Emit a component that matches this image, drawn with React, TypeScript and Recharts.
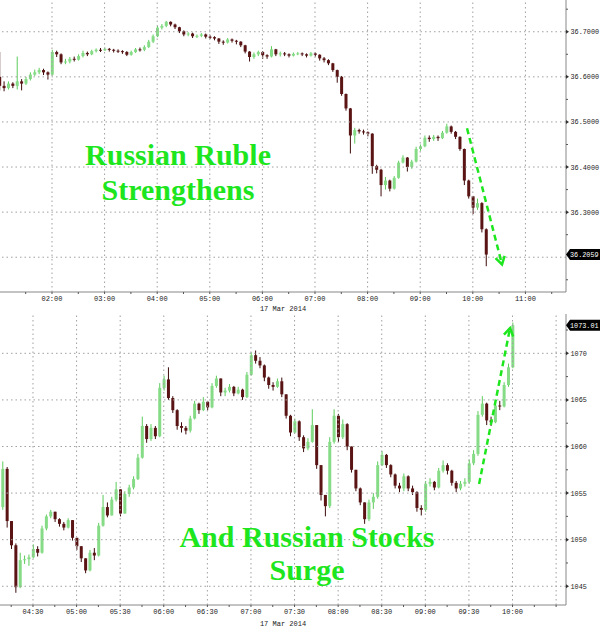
import React from 'react';
import { ComposedChart, Bar, XAxis, YAxis, ReferenceLine } from 'recharts';

// USD/RUB, 5-minute bars starting 01:00 (minutes since midnight)
const rubleStart = 60;
const rubleStep = 5;
const rubleOpen0 = 36.6;
const rubleClose = [
  36.580, 36.575, 36.585, 36.580, 36.590, 36.585, 36.595, 36.605, 36.610, 36.615,
  36.610, 36.605, 36.655, 36.650, 36.632, 36.634, 36.640, 36.638, 36.646, 36.653,
  36.650, 36.657, 36.660, 36.659, 36.662, 36.660, 36.658, 36.657, 36.655, 36.649,
  36.655, 36.661, 36.660, 36.666, 36.678, 36.690, 36.709, 36.713, 36.722, 36.716,
  36.710, 36.701, 36.694, 36.696, 36.690, 36.691, 36.694, 36.689, 36.688, 36.685,
  36.678, 36.676, 36.683, 36.680, 36.678, 36.670, 36.656, 36.644, 36.650, 36.655,
  36.648, 36.645, 36.661, 36.650, 36.652, 36.650, 36.647, 36.651, 36.652, 36.650,
  36.647, 36.652, 36.649, 36.641, 36.637, 36.630, 36.615, 36.600, 36.562, 36.530,
  36.470, 36.482, 36.479, 36.477, 36.474, 36.402, 36.394, 36.360, 36.370, 36.352,
  36.376, 36.410, 36.421, 36.400, 36.412, 36.440, 36.446, 36.465, 36.462, 36.467,
  36.464, 36.476, 36.490, 36.478, 36.467, 36.440, 36.370, 36.335, 36.310, 36.320,
  36.262, 36.2059,
];
const rubleHigh = [
  36.655, 36.590, 36.590, 36.588, 36.645, 36.595, 36.600, 36.610, 36.616, 36.620,
  36.618, 36.612, 36.660, 36.658, 36.652, 36.640, 36.644, 36.645, 36.650, 36.658,
  36.656, 36.660, 36.663, 36.664, 36.665, 36.664, 36.662, 36.661, 36.659, 36.657,
  36.658, 36.664, 36.665, 36.670, 36.682, 36.694, 36.713, 36.717, 36.724, 36.723,
  36.718, 36.711, 36.703, 36.699, 36.698, 36.694, 36.697, 36.696, 36.692, 36.690,
  36.686, 36.681, 36.686, 36.685, 36.682, 36.679, 36.671, 36.657, 36.654, 36.658,
  36.657, 36.650, 36.668, 36.662, 36.656, 36.655, 36.652, 36.654, 36.655, 36.654,
  36.652, 36.655, 36.654, 36.650, 36.644, 36.639, 36.631, 36.616, 36.602, 36.563,
  36.531, 36.487, 36.485, 36.483, 36.479, 36.475, 36.405, 36.396, 36.378, 36.372,
  36.380, 36.414, 36.426, 36.422, 36.416, 36.445, 36.450, 36.470, 36.470, 36.471,
  36.470, 36.480, 36.496, 36.492, 36.480, 36.468, 36.441, 36.372, 36.336, 36.330,
  36.322, 36.264,
];
const rubleLow = [
  36.570, 36.568, 36.572, 36.575, 36.572, 36.570, 36.582, 36.592, 36.602, 36.606,
  36.604, 36.594, 36.603, 36.644, 36.628, 36.628, 36.630, 36.634, 36.636, 36.643,
  36.646, 36.648, 36.654, 36.655, 36.657, 36.656, 36.654, 36.653, 36.651, 36.646,
  36.647, 36.653, 36.656, 36.657, 36.664, 36.675, 36.688, 36.705, 36.710, 36.712,
  36.706, 36.697, 36.690, 36.690, 36.686, 36.686, 36.688, 36.685, 36.684, 36.681,
  36.673, 36.671, 36.674, 36.676, 36.672, 36.666, 36.652, 36.634, 36.640, 36.646,
  36.640, 36.640, 36.643, 36.646, 36.645, 36.646, 36.643, 36.645, 36.648, 36.646,
  36.643, 36.645, 36.645, 36.636, 36.632, 36.626, 36.611, 36.587, 36.558, 36.525,
  36.430, 36.452, 36.474, 36.472, 36.468, 36.385, 36.386, 36.335, 36.350, 36.346,
  36.350, 36.374, 36.408, 36.390, 36.396, 36.410, 36.436, 36.444, 36.456, 36.458,
  36.458, 36.462, 36.474, 36.474, 36.462, 36.436, 36.360, 36.330, 36.296, 36.305,
  36.255, 36.180,
];

// MICEX index, 3-minute bars starting 04:09
const micexStart = 249;
const micexStep = 3;
const micexOpen0 = 1053.5;
const micexClose = [
  1057.6, 1052.0, 1049.4, 1044.9, 1047.8, 1047.9, 1048.1, 1049.0, 1048.6, 1051.2,
  1052.5, 1053.0, 1052.2, 1051.7, 1051.3, 1052.1, 1050.2, 1049.3, 1048.0, 1046.7,
  1048.6, 1048.3, 1051.5, 1053.5, 1052.6, 1054.3, 1055.4, 1052.8, 1054.9, 1055.6,
  1056.5, 1058.8, 1062.2, 1060.8, 1062.0, 1061.1, 1066.3, 1067.2, 1065.2, 1063.9,
  1062.2, 1062.0, 1061.7, 1063.0, 1064.6, 1063.9, 1064.8, 1064.2, 1066.5, 1067.3,
  1065.8, 1066.0, 1066.4, 1065.7, 1066.1, 1065.3, 1067.7, 1069.8, 1069.2, 1068.7,
  1067.4, 1066.6, 1066.4, 1067.0, 1065.6, 1063.3, 1061.5, 1062.7, 1061.0, 1059.8,
  1060.5, 1062.3, 1058.0, 1054.8, 1053.6, 1060.5, 1063.3, 1061.0, 1062.4, 1060.0,
  1057.5, 1055.5, 1054.0, 1052.2, 1054.0, 1054.6, 1058.0, 1059.1, 1058.0, 1057.0,
  1055.8, 1055.5, 1056.8, 1055.5, 1055.1, 1053.4, 1053.2, 1056.0, 1056.2, 1055.6,
  1057.4, 1058.0, 1057.4, 1056.1, 1055.5, 1056.0, 1056.2, 1058.2, 1059.2, 1063.4,
  1064.6, 1062.8, 1062.6, 1064.4, 1064.3, 1066.6, 1068.5, 1073.01,
];
const micexHigh = [
  1058.4, 1057.8, 1052.0, 1049.6, 1048.6, 1048.3, 1048.4, 1049.5, 1049.3, 1051.5,
  1052.7, 1053.2, 1053.0, 1052.3, 1051.9, 1052.3, 1052.1, 1050.2, 1049.3, 1048.0,
  1048.9, 1049.1, 1051.8, 1054.8, 1054.0, 1054.6, 1056.2, 1055.4, 1055.2, 1055.9,
  1056.8, 1059.2, 1063.2, 1062.4, 1062.4, 1062.2, 1066.8, 1067.6, 1068.5, 1065.4,
  1064.0, 1062.6, 1062.2, 1063.3, 1064.9, 1064.7, 1065.3, 1064.9, 1066.8, 1067.6,
  1067.3, 1066.3, 1066.7, 1066.5, 1066.4, 1066.2, 1068.0, 1070.1, 1070.3, 1069.6,
  1068.8, 1067.5, 1066.9, 1067.3, 1067.4, 1065.6, 1063.4, 1063.0, 1062.8, 1061.2,
  1060.9, 1064.0, 1062.3, 1058.0, 1054.8, 1061.0, 1064.0, 1063.5, 1062.9, 1062.5,
  1060.0, 1057.5, 1055.6, 1054.0, 1054.3, 1055.0, 1058.4, 1059.5, 1059.2, 1058.1,
  1057.1, 1056.1, 1057.1, 1056.9, 1055.8, 1055.2, 1053.7, 1056.3, 1056.6, 1056.3,
  1057.7, 1058.5, 1058.2, 1057.5, 1056.3, 1056.3, 1056.6, 1058.6, 1059.6, 1063.8,
  1065.4, 1064.7, 1063.2, 1064.8, 1064.9, 1066.9, 1068.9, 1073.3,
];
const micexLow = [
  1053.2, 1051.3, 1049.0, 1044.3, 1044.8, 1047.4, 1047.2, 1048.0, 1048.2, 1048.5,
  1051.0, 1052.3, 1051.9, 1051.4, 1051.0, 1051.2, 1049.9, 1048.9, 1047.6, 1046.4,
  1046.6, 1047.8, 1048.2, 1051.4, 1052.4, 1052.6, 1054.1, 1052.5, 1052.8, 1054.6,
  1055.4, 1056.4, 1058.7, 1060.4, 1060.6, 1060.8, 1061.0, 1066.0, 1065.0, 1063.6,
  1061.8, 1061.5, 1061.3, 1061.5, 1062.9, 1063.5, 1063.8, 1063.9, 1064.1, 1066.3,
  1065.4, 1065.4, 1065.8, 1065.4, 1065.6, 1065.0, 1065.2, 1067.6, 1068.9, 1068.4,
  1067.0, 1066.2, 1066.0, 1066.3, 1065.3, 1063.0, 1061.1, 1061.4, 1060.6, 1059.4,
  1059.6, 1060.4, 1057.6, 1054.2, 1052.5, 1053.4, 1060.3, 1060.5, 1060.8, 1059.6,
  1057.2, 1055.2, 1053.7, 1051.7, 1052.0, 1053.3, 1054.4, 1057.9, 1057.7, 1056.7,
  1055.5, 1055.1, 1055.2, 1055.2, 1054.8, 1053.0, 1052.6, 1053.0, 1055.7, 1055.3,
  1055.5, 1057.2, 1057.0, 1055.8, 1055.1, 1055.3, 1055.7, 1056.0, 1058.0, 1059.0,
  1063.2, 1062.3, 1062.2, 1062.5, 1063.9, 1064.2, 1066.4, 1068.4,
];

// axes
const rubleTimeTicks = [90, 120, 150, 180, 210, 240, 270, 300, 330, 360, 390, 420, 450, 480, 510, 540, 570, 600, 630, 660, 690];
const rubleTimeLabels = [120, 180, 240, 300, 360, 420, 480, 540, 600, 660];
const rublePriceMajor = [36.2, 36.3, 36.4, 36.5, 36.6, 36.7];
const rublePriceMinor = [36.15, 36.25, 36.35, 36.45, 36.55, 36.65, 36.75];
const rubleLast = 36.2059;

const micexTimeTicks = [255, 270, 285, 300, 315, 330, 345, 360, 375, 390, 405, 420, 435, 450, 465, 480, 495, 510, 525, 540, 555, 570, 585, 600, 615, 630];
const micexTimeLabels = [270, 300, 330, 360, 390, 420, 450, 480, 510, 540, 570, 600];
const micexGridTimes = [270, 300, 330, 360, 390, 420, 450, 480, 510, 540, 570, 600, 630];
const micexPriceMajor = [1045, 1050, 1055, 1060, 1065, 1070];
const micexPriceMinor = [1047.5, 1052.5, 1057.5, 1062.5, 1067.5, 1072.5];
const micexLast = 1073.01;

const dateLabel = '17 Mar 2014';

// annotation arrows (time, price)
const rubleArrow = [{ x: 593.4, y: 36.486 }, { x: 633.3, y: 36.184 }];
const micexArrow = [{ x: 577.0, y: 1055.98 }, { x: 598.3, y: 1072.71 }];

const buildBars = (start: number, step: number, open0: number, close: number[], high: number[], low: number[]) =>
  close.map((c, i) => ({
    t: start + step * i,
    o: i === 0 ? open0 : close[i - 1],
    c,
    h: high[i],
    l: low[i],
    range: [low[i], high[i]],
  }));

const rubleRows = buildBars(rubleStart, rubleStep, rubleOpen0, rubleClose, rubleHigh, rubleLow);
const micexRows = buildBars(micexStart, micexStep, micexOpen0, micexClose, micexHigh, micexLow);

const MONO = "'Liberation Mono', 'DejaVu Sans Mono', monospace";
const GREEN = '#1ee61e';
const GRID = '#a0a0a0';

const fmtTime = (m: number) =>
  `${String(Math.floor(m / 60)).padStart(2, '0')}:${String(m % 60).padStart(2, '0')}`;

const Candle = (props: any) => {
  const { x, y, width, height, payload } = props;
  if (x == null || y == null || !payload) return null;
  const { o, c, h, l } = payload;
  const top = Math.min(y, y + height);
  const span = Math.abs(height);
  const py = (v: number) => (h === l ? top : top + ((h - v) / (h - l)) * span);
  const up = c >= o;
  const cx = x + width / 2;
  const bTop = py(Math.max(o, c));
  const bBot = py(Math.min(o, c));
  return (
    <g>
      <line x1={cx} x2={cx} y1={top} y2={top + span} stroke={up ? '#5ccc5c' : '#3e0a0a'} strokeWidth={1} />
      <rect x={x} y={bTop} width={width} height={Math.max(1, bBot - bTop)} fill={up ? '#86dc86' : '#5a1414'} />
    </g>
  );
};

const Arrow = (p: any) => {
  const { x1, y1, x2, y2 } = p;
  if (x1 == null) return null;
  const ang = Math.atan2(y2 - y1, x2 - x1);
  const len = 9;
  const spread = 0.55;
  const ax = x2 - len * Math.cos(ang - spread);
  const ay = y2 - len * Math.sin(ang - spread);
  const bx = x2 - len * Math.cos(ang + spread);
  const by = y2 - len * Math.sin(ang + spread);
  return (
    <g>
      <line x1={x1} y1={y1} x2={x2} y2={y2} stroke={GREEN} strokeWidth={2.5} strokeDasharray="6 4" />
      <polyline points={`${ax},${ay} ${x2},${y2} ${bx},${by}`} fill="none" stroke={GREEN} strokeWidth={2.5} />
    </g>
  );
};

const timeTick = (labelled: number[]) => (p: any) => {
  const { x, y, payload } = p;
  const show = labelled.includes(payload.value);
  return (
    <g>
      <line x1={x} x2={x} y1={y} y2={y + 2} stroke="#555" />
      {show && (
        <text x={x} y={y + 8.5} textAnchor="middle" fontSize={7} fontFamily={MONO} fill="#222">
          {fmtTime(payload.value)}
        </text>
      )}
    </g>
  );
};

const priceTick = (majors: number[], last: number, fmt: (v: number) => string) => (p: any) => {
  const { x, y, payload } = p;
  const v = payload.value;
  if (v === last) {
    return (
      <g>
        <polygon points={`${x},${y} ${x + 4},${y - 5.5} ${x + 34},${y - 5.5} ${x + 34},${y + 5.5} ${x + 4},${y + 5.5}`} fill="#000" />
        <text x={x + 4} y={y + 2.5} fontSize={6.8} fontFamily={MONO} fill="#fff">{fmt(v)}</text>
      </g>
    );
  }
  if (majors.includes(v)) {
    return (
      <g>
        <polygon points={`${x},${y - 2} ${x + 3},${y} ${x},${y + 2}`} fill="#333" />
        <text x={x + 4.5} y={y + 2.5} fontSize={6.8} fontFamily={MONO} fill="#222">{fmt(v)}</text>
      </g>
    );
  }
  return <line x1={x} x2={x + 2} y1={y} y2={y} stroke="#555" />;
};

const gridLine = (key: string, props: any) => (
  <ReferenceLine key={key} {...props} stroke={GRID} strokeDasharray="1.5 3" strokeWidth={1} />
);

const RubleChart = () => (
  <ComposedChart width={600} height={314} data={rubleRows} margin={{ top: 0, right: 0, bottom: 0, left: 0 }}>
    <XAxis
      dataKey="t"
      type="number"
      domain={[60.7, 706.3]}
      allowDataOverflow
      ticks={rubleTimeTicks}
      interval={0}
      tick={timeTick(rubleTimeLabels)}
      tickLine={false}
      tickSize={0}
      tickMargin={0}
      height={22}
      axisLine={{ stroke: '#888' }}
      label={{ value: dateLabel, position: 'insideBottom', offset: 3, fontSize: 7, fontFamily: MONO, fill: '#222' }}
    />
    <YAxis
      orientation="right"
      type="number"
      domain={[36.1229, 36.7704]}
      allowDataOverflow
      ticks={[rubleLast, ...rublePriceMajor.filter((v) => v !== 36.2), ...rublePriceMinor]}
      interval={0}
      tick={priceTick(rublePriceMajor, rubleLast, (v) => v.toFixed(4))}
      tickLine={false}
      tickSize={0}
      tickMargin={0}
      width={34}
      axisLine={{ stroke: '#888' }}
    />
    {rublePriceMajor.map((v) => gridLine(`h${v}`, { y: v }))}
    {rubleTimeLabels.map((v) => gridLine(`v${v}`, { x: v }))}
    <Bar dataKey="range" barSize={3} shape={<Candle />} isAnimationActive={false} />
    <ReferenceLine segment={rubleArrow} shape={Arrow} />
  </ComposedChart>
);

const MicexChart = () => (
  <ComposedChart width={600} height={313} data={micexRows} margin={{ top: 0, right: 0, bottom: 0, left: 0 }}>
    <XAxis
      dataKey="t"
      type="number"
      domain={[247.3, 636.8]}
      allowDataOverflow
      ticks={micexTimeTicks}
      interval={0}
      tick={timeTick(micexTimeLabels)}
      tickLine={false}
      tickSize={0}
      tickMargin={0}
      height={22}
      axisLine={{ stroke: '#888' }}
      label={{ value: dateLabel, position: 'insideBottom', offset: 1, fontSize: 7, fontFamily: MONO, fill: '#222' }}
    />
    <YAxis
      orientation="right"
      type="number"
      domain={[1042.99, 1074.22]}
      allowDataOverflow
      ticks={[micexLast, ...micexPriceMajor, ...micexPriceMinor]}
      interval={0}
      tick={priceTick(micexPriceMajor, micexLast, (v) => (v === micexLast ? v.toFixed(2) : String(v)))}
      tickLine={false}
      tickSize={0}
      tickMargin={0}
      width={34}
      axisLine={{ stroke: '#888' }}
    />
    {micexPriceMajor.map((v) => gridLine(`h${v}`, { y: v }))}
    {micexGridTimes.map((v) => gridLine(`v${v}`, { x: v }))}
    <Bar dataKey="range" barSize={3} shape={<Candle />} isAnimationActive={false} />
    <ReferenceLine segment={micexArrow} shape={Arrow} />
  </ComposedChart>
);

const titleStyle: React.CSSProperties = {
  fontFamily: "'Liberation Serif', 'DejaVu Serif', serif",
  fontWeight: 'bold',
  fontSize: 30,
};

export default function App() {
  return (
    <div style={{ position: 'absolute', left: 0, top: 0, width: 600, height: 627, background: '#fff', overflow: 'hidden' }}>
      <div style={{ position: 'absolute', left: 0, top: 0 }}>
        <RubleChart />
      </div>
      <div style={{ position: 'absolute', left: 0, top: 314 }}>
        <MicexChart />
      </div>
      <svg width={600} height={627} style={{ position: 'absolute', left: 0, top: 0, pointerEvents: 'none' }}>
        <g fill={GREEN} style={titleStyle}>
          <text x={178} y={165} textAnchor="middle">Russian Ruble</text>
          <text x={178} y={200} textAnchor="middle">Strengthens</text>
          <text x={307} y={547} textAnchor="middle">And Russian Stocks</text>
          <text x={307} y={580} textAnchor="middle">Surge</text>
        </g>
      </svg>
    </div>
  );
}
